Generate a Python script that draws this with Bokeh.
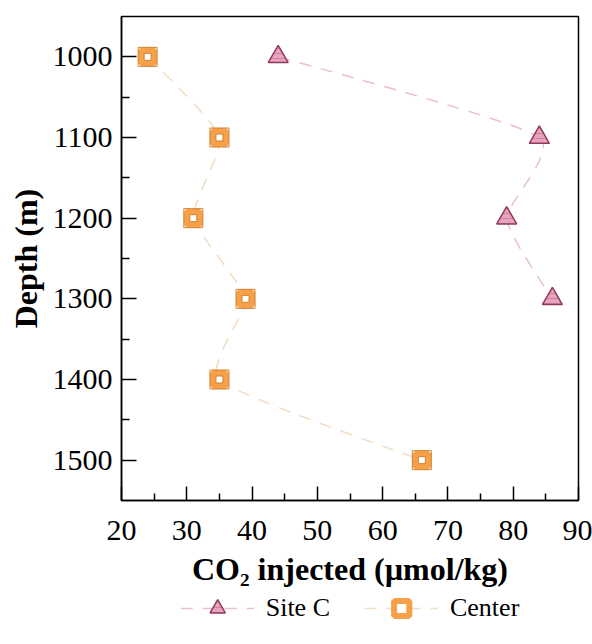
import numpy as np
from bokeh.plotting import figure
from bokeh.layouts import column
from bokeh.models import Legend, LegendItem, FixedTicker, Range1d
from bokeh.embed import file_html
from bokeh.resources import INLINE

# ---- data ----
site_c_depth = [1000, 1100, 1200, 1300]
site_c_co2 = [44, 84, 79, 86]
center_depth = [1000, 1100, 1200, 1300, 1400, 1500]
center_co2 = [24, 35, 31, 39, 35, 66]
x_ticks = [20, 30, 40, 50, 60, 70, 80, 90]
y_ticks = [1000, 1100, 1200, 1300, 1400, 1500]
series_labels = ["Site C", "Center"]

FONT = "Liberation Serif"

SITE_LINE = dict(line_color="#e9bfcf", line_width=1.5, line_dash="12 10")
CENTER_LINE = dict(line_color="#f1dcc4", line_width=1.5, line_dash="12 10")
TRI = dict(marker="triangle", fill_color="#eaa3bd", line_color="#8e3a5c", line_width=1.5,
           hatch_pattern="-", hatch_color="#c97a98", hatch_scale=5, hatch_weight=0.8)
SQ = dict(marker="square", fill_color="white", line_color="#f7a04a", line_width=6)


def spline_bezier(xs, ys, k=0.5):
    """Smooth curve through the points as bezier segments (rendering only)."""
    def derivs(v):
        v = np.asarray(v, float)
        n = len(v)
        d = np.zeros(n)
        for i in range(1, n - 1):
            d[i] = k * (v[i + 1] - v[i - 1]) / 2
        d[0] = (3 * (v[1] - v[0]) - d[1]) / 2
        d[-1] = (3 * (v[-1] - v[-2]) - d[-2]) / 2
        return d
    xs = np.asarray(xs, float)
    ys = np.asarray(ys, float)
    dx, dy = derivs(xs), derivs(ys)
    return dict(
        x0=xs[:-1], y0=ys[:-1], x1=xs[1:], y1=ys[1:],
        cx0=xs[:-1] + dx[:-1] / 3, cy0=ys[:-1] + dy[:-1] / 3,
        cx1=xs[1:] - dx[1:] / 3, cy1=ys[1:] - dy[1:] / 3,
    )


p = figure(width=592, height=606, output_backend="svg", toolbar_location=None,
           x_range=Range1d(20, 90), y_range=Range1d(1550, 950),
           min_border_left=121, min_border_right=14, min_border_top=16,
           min_border_bottom=0)
p.frame_width = 457
p.frame_height = 484

p.xgrid.visible = False
p.ygrid.visible = False
p.outline_line_color = "black"
p.outline_line_width = 1.5
p.background_fill_color = "white"
p.border_fill_color = "white"

for ax in (p.xaxis[0], p.yaxis[0]):
    ax.axis_line_color = "black"
    ax.axis_line_width = 1.5
    ax.major_tick_line_color = "black"
    ax.minor_tick_line_color = "black"
    ax.major_tick_line_width = 1.5
    ax.minor_tick_line_width = 1.5
    ax.major_tick_out = 0
    ax.minor_tick_out = 0
    ax.major_label_text_font = FONT
    ax.major_label_text_font_size = "30px"
    ax.major_label_text_color = "black"
    ax.axis_label_text_font = FONT
    ax.axis_label_text_font_style = "bold"
    ax.axis_label_text_font_size = "32px"
    ax.axis_label_text_color = "black"

p.xaxis.ticker = FixedTicker(ticks=x_ticks, minor_ticks=[v + 5 for v in x_ticks[:-1]])
p.yaxis.ticker = FixedTicker(ticks=y_ticks, minor_ticks=[v + 50 for v in y_ticks[:-1]])
p.xaxis.major_tick_in = 14
p.xaxis.minor_tick_in = 7
p.yaxis.major_tick_in = 15
p.yaxis.minor_tick_in = 8
p.xaxis.major_label_standoff = 20
p.yaxis.major_label_standoff = 9
p.xaxis.axis_label = "CO\u2082 injected (\u00b5mol/kg)"
p.yaxis.axis_label = "Depth (m)"
p.xaxis.axis_label_standoff = 8
p.yaxis.axis_label_standoff = 6

# Site C
sc = spline_bezier(site_c_co2, site_c_depth)
p.bezier(source=sc, x0="x0", y0="y0", x1="x1", y1="y1",
         cx0="cx0", cy0="cy0", cx1="cx1", cy1="cy1", **SITE_LINE)
p.scatter(site_c_co2, site_c_depth, size=20, **TRI)

# Center
cc = spline_bezier(center_co2, center_depth)
p.bezier(source=cc, x0="x0", y0="y0", x1="x1", y1="y1",
         cx0="cx0", cy0="cy0", cx1="cx1", cy1="cy1", **CENTER_LINE)
p.scatter(center_co2, center_depth, size=13, **SQ)
p.scatter(center_co2, center_depth, marker="square", size=19,
          fill_color=None, line_color="#d0802e", line_width=1)
p.scatter(center_co2, center_depth, marker="square", size=7,
          fill_color=None, line_color="#d0802e", line_width=1)

# ---- legend strip below (its renderers hold the series, but lie outside its view) ----
lg = figure(width=592, height=38, output_backend="svg", toolbar_location=None,
            x_range=Range1d(0, 1), y_range=Range1d(0, 1),
            min_border_left=101, min_border_right=14, min_border_top=0,
            min_border_bottom=0)
lg.axis.visible = False
lg.grid.visible = False
lg.outline_line_color = None
lg.background_fill_color = "white"
lg.border_fill_color = "white"
r1 = lg.line(site_c_co2, site_c_depth, **SITE_LINE)
r2 = lg.scatter(site_c_co2, site_c_depth, size=20, **TRI)
r3 = lg.line(center_co2, center_depth, **CENTER_LINE)
r4 = lg.scatter(center_co2, center_depth, size=13, **SQ)

legend = Legend(items=[
    LegendItem(label=series_labels[0], renderers=[r1, r2]),
    LegendItem(label=series_labels[1], renderers=[r3, r4]),
], orientation="horizontal", location="center",
    label_text_font=FONT, label_text_font_size="26px", label_text_color="black",
    glyph_width=74, glyph_height=38, label_standoff=12, spacing=34,
    border_line_color=None, background_fill_alpha=0, padding=0, margin=0)
lg.add_layout(legend, "center")

open("out.html", "w").write(file_html(column(p, lg, spacing=0), INLINE))
